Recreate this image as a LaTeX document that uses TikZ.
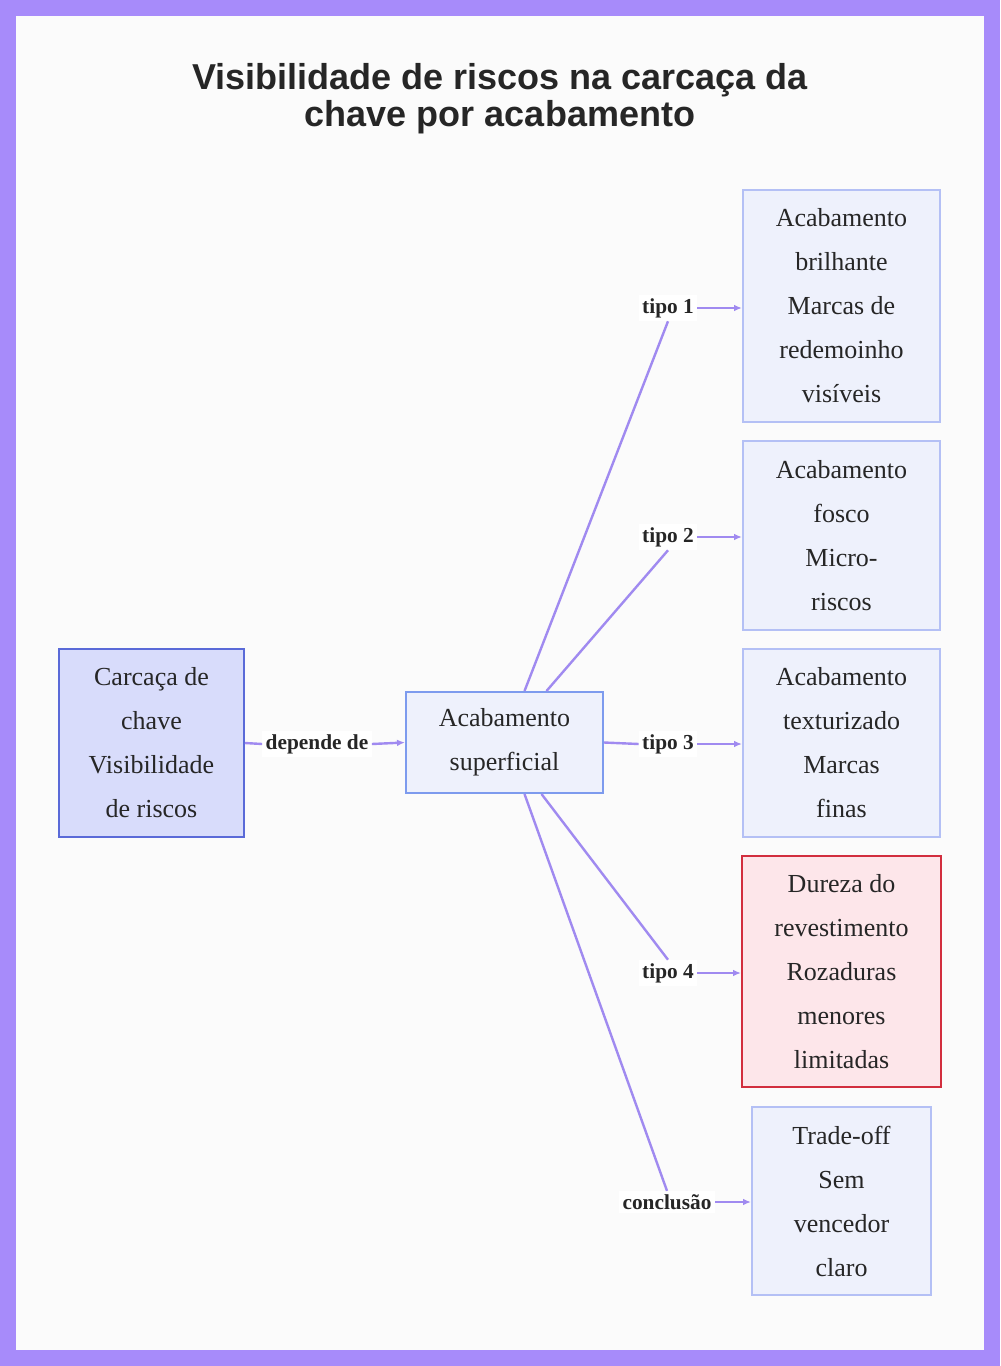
\documentclass[tikz,border=0pt]{standalone}
\usepackage{fontspec}
\setmainfont{Liberation Serif}
\newfontfamily\titlefont{Liberation Sans}
\usetikzlibrary{arrows.meta}
\definecolor{frame}{HTML}{A78BFA}
\definecolor{line}{HTML}{A08AF0}
\definecolor{b1fill}{HTML}{D8DCFB}
\definecolor{b1draw}{HTML}{5A6AD8}
\definecolor{sfill}{HTML}{EEF1FC}
\definecolor{sdraw}{HTML}{B4C0F5}
\definecolor{bdraw}{HTML}{7D9BEE}
\definecolor{rfill}{HTML}{FDE6EA}
\definecolor{rdraw}{HTML}{D22E3E}
\begin{document}
\begin{tikzpicture}[x=0.75pt,y=-0.75pt,
  box/.style={draw,line width=1.5pt,align=center,inner sep=0pt,font=\fontsize{19.5}{33}\selectfont,text=black!85},
  blue1/.style={box,fill=b1fill,draw=b1draw},
  soft/.style={box,fill=sfill,draw=sdraw},
  redb/.style={box,fill=rfill,draw=rdraw},
  lbl/.style={fill=white,inner sep=2.5pt,font=\bfseries\fontsize{16}{19}\selectfont,text=black!85},
  con/.style={draw=line,line width=1.8pt},
  arr/.style={con,-{Latex[length=6pt,width=5pt]}}]
\fill[frame] (0,0) rectangle (1000,1366);
\fill[gray!3] (16,16) rectangle (984,1350);
\node[font=\titlefont\bfseries\fontsize{27}{28}\selectfont,align=center,text=black!85] (t) at (500,99) {Visibilidade de riscos na carcaça da\\chave por acabamento};
\node[blue1,minimum width=185*0.75pt,minimum height=188*0.75pt] (a) at (151.5,743) {Carcaça de\\chave\\Visibilidade\\de riscos};
\node[soft,draw=bdraw,minimum width=197*0.75pt,minimum height=101*0.75pt] (b) at (504.5,742.5) {Acabamento\\superficial};
\node[soft,minimum width=197*0.75pt,minimum height=232*0.75pt] (c1) at (841.5,306) {Acabamento\\brilhante\\Marcas de\\redemoinho\\visíveis};
\node[soft,minimum width=197*0.75pt,minimum height=189*0.75pt] (c2) at (841.5,535.5) {Acabamento\\fosco\\Micro-\\riscos};
\node[soft,minimum width=197*0.75pt,minimum height=188*0.75pt] (c3) at (841.5,743) {Acabamento\\texturizado\\Marcas\\finas};
\node[redb,minimum width=199*0.75pt,minimum height=231*0.75pt] (c4) at (841.5,971.5) {Dureza do\\revestimento\\Rozaduras\\menores\\limitadas};
\node[soft,minimum width=179*0.75pt,minimum height=188*0.75pt] (c5) at (841.5,1201) {Trade-off\\Sem\\vencedor\\claro};
\node[lbl] (l0) at (317,744) {depende de};
\node[lbl] (l1) at (668,308) {tipo 1};
\node[lbl] (l2) at (668,537) {tipo 2};
\node[lbl] (l3) at (668,744) {tipo 3};
\node[lbl] (l4) at (668,973) {tipo 4};
\node[lbl] (l5) at (667,1202) {conclusão};
\draw[con] (a.east) -- (l0.west); \draw[arr] (l0.east) -- (b.west);
\draw[con] ([xshift=20*0.75pt]b.north) -- (l1.south); \draw[arr] (l1.east) -- (c1.west|-l1);
\draw[con] ([xshift=42*0.75pt]b.north) -- (l2.south); \draw[arr] (l2.east) -- (c2.west|-l2);
\draw[con] (b.east) -- (l3.west); \draw[arr] (l3.east) -- (c3.west|-l3);
\draw[con] ([xshift=37*0.75pt]b.south) -- (l4.north); \draw[arr] (l4.east) -- (c4.west|-l4);
\draw[con] ([xshift=20*0.75pt]b.south) -- (l5.north); \draw[arr] (l5.east) -- (c5.west|-l5);
\end{tikzpicture}
\end{document}
